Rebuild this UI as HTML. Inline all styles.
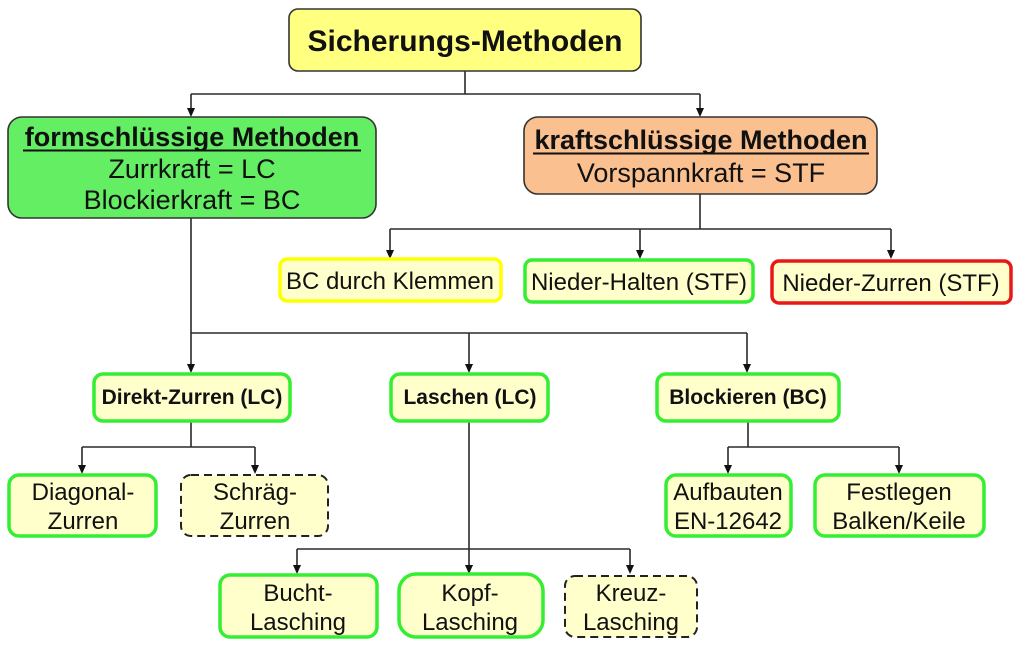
<!DOCTYPE html>
<html>
<head>
<meta charset="utf-8">
<style>
html,body{margin:0;padding:0;background:#fff;}
svg{display:block;}
text{font-family:"Liberation Sans",Arial,sans-serif;fill:#111;}
.b{font-weight:bold;}
</style>
</head>
<body>
<svg width="1024" height="645" viewBox="0 0 1024 645" xmlns="http://www.w3.org/2000/svg">
<!-- connectors -->
<g stroke="#2a2a2a" stroke-width="1.6" fill="none">
  <path d="M465,71 V94 M191,94 H700 M191,94 V109 M700,94 V109"/>
  <path d="M700,194 V229 M390,229 H891 M390,229 V251 M640,229 V251 M891,229 V251"/>
  <path d="M191,218 V333 M191,333 H747 M191,333 V365 M469,333 V365 M747,333 V365"/>
  <path d="M191,421 V447 M82,447 H255 M82,447 V466 M255,447 V466"/>
  <path d="M469,421 V549 M297,549 H630 M297,549 V566 M469,549 V566 M630,549 V566"/>
  <path d="M748,421 V447 M728,447 H899 M728,447 V466 M899,447 V466"/>
</g>
<g fill="#111">
  <polygon points="187,108 195,108 191,117"/>
  <polygon points="696,108 704,108 700,117"/>
  <polygon points="386,250 394,250 390,259"/>
  <polygon points="636,250 644,250 640,259"/>
  <polygon points="887,250 895,250 891,259"/>
  <polygon points="187,364 195,364 191,373"/>
  <polygon points="465,364 473,364 469,373"/>
  <polygon points="743,364 751,364 747,373"/>
  <polygon points="78,465 86,465 82,474"/>
  <polygon points="251,465 259,465 255,474"/>
  <polygon points="724,465 732,465 728,474"/>
  <polygon points="895,465 903,465 899,474"/>
  <polygon points="293,565 301,565 297,574"/>
  <polygon points="465,565 473,565 469,574"/>
  <polygon points="626,565 634,565 630,574"/>
</g>

<!-- top -->
<rect x="289" y="9" width="352" height="62" rx="9" fill="#FFFF80" stroke="#333" stroke-width="1.6"/>
<text x="465" y="51" text-anchor="middle" class="b" font-size="30">Sicherungs-Methoden</text>

<!-- green main -->
<rect x="8" y="117" width="368" height="101" rx="14" fill="#63EE63" stroke="#333" stroke-width="1.6"/>
<text x="192" y="146" text-anchor="middle" class="b" font-size="27">formschlüssige Methoden</text>
<line x1="23" y1="150.5" x2="361" y2="150.5" stroke="#111" stroke-width="2"/>
<text x="192" y="178" text-anchor="middle" font-size="27">Zurrkraft = LC</text>
<text x="192" y="209" text-anchor="middle" font-size="27">Blockierkraft = BC</text>

<!-- orange main -->
<rect x="524" y="117" width="353" height="77" rx="14" fill="#FAC090" stroke="#333" stroke-width="1.6"/>
<text x="701" y="149" text-anchor="middle" class="b" font-size="27">kraftschlüssige Methoden</text>
<line x1="533" y1="153.5" x2="869" y2="153.5" stroke="#111" stroke-width="2"/>
<text x="701" y="182" text-anchor="middle" font-size="27">Vorspannkraft = STF</text>

<!-- tier 2 -->
<rect x="280" y="259" width="221" height="42" rx="7" fill="#FFFFCC" stroke="#FFFF00" stroke-width="3.5"/>
<text x="390" y="289" text-anchor="middle" font-size="24">BC durch Klemmen</text>
<rect x="525" y="260" width="228" height="42" rx="7" fill="#FFFFCC" stroke="#33EE33" stroke-width="3.5"/>
<text x="639" y="290" text-anchor="middle" font-size="24">Nieder-Halten (STF)</text>
<rect x="772" y="261" width="239" height="42" rx="7" fill="#FFFFCC" stroke="#E81818" stroke-width="3.5"/>
<text x="891" y="291" text-anchor="middle" font-size="24">Nieder-Zurren (STF)</text>

<!-- tier 3 -->
<rect x="94" y="374" width="196" height="47" rx="9" fill="#FFFFCC" stroke="#33EE33" stroke-width="3.5"/>
<text x="192" y="404" text-anchor="middle" class="b" font-size="21">Direkt-Zurren (LC)</text>
<rect x="391" y="374" width="157" height="47" rx="9" fill="#FFFFCC" stroke="#33EE33" stroke-width="3.5"/>
<text x="470" y="404" text-anchor="middle" class="b" font-size="21">Laschen (LC)</text>
<rect x="657" y="374" width="182" height="47" rx="9" fill="#FFFFCC" stroke="#33EE33" stroke-width="3.5"/>
<text x="748" y="404" text-anchor="middle" class="b" font-size="21">Blockieren (BC)</text>

<!-- tier 4 left -->
<rect x="9" y="475" width="147" height="61" rx="10" fill="#FFFFCC" stroke="#33EE33" stroke-width="3.5"/>
<text x="83" y="500" text-anchor="middle" font-size="24">Diagonal-</text>
<text x="83" y="529" text-anchor="middle" font-size="24">Zurren</text>
<rect x="181" y="475" width="147" height="61" rx="10" fill="#FFFFCC" stroke="#222" stroke-width="2" stroke-dasharray="8,5"/>
<text x="255" y="500" text-anchor="middle" font-size="24">Schräg-</text>
<text x="255" y="529" text-anchor="middle" font-size="24">Zurren</text>

<!-- tier 4 right -->
<rect x="666" y="475" width="125" height="61" rx="10" fill="#FFFFCC" stroke="#33EE33" stroke-width="3.5"/>
<text x="728" y="500" text-anchor="middle" font-size="24">Aufbauten</text>
<text x="728" y="529" text-anchor="middle" font-size="24">EN-12642</text>
<rect x="815" y="475" width="169" height="61" rx="10" fill="#FFFFCC" stroke="#33EE33" stroke-width="3.5"/>
<text x="899" y="500" text-anchor="middle" font-size="24">Festlegen</text>
<text x="899" y="529" text-anchor="middle" font-size="24">Balken/Keile</text>

<!-- tier 5 -->
<rect x="220" y="575" width="157" height="62" rx="10" fill="#FFFFCC" stroke="#33EE33" stroke-width="3.5"/>
<text x="298" y="601" text-anchor="middle" font-size="24">Bucht-</text>
<text x="298" y="630" text-anchor="middle" font-size="24">Lasching</text>
<rect x="399" y="574" width="144" height="63" rx="17" fill="#FFFFCC" stroke="#33EE33" stroke-width="3.5"/>
<text x="470" y="601" text-anchor="middle" font-size="24">Kopf-</text>
<text x="470" y="630" text-anchor="middle" font-size="24">Lasching</text>
<rect x="565" y="576" width="132" height="61" rx="10" fill="#FFFFCC" stroke="#222" stroke-width="2" stroke-dasharray="8,5"/>
<text x="631" y="601" text-anchor="middle" font-size="24">Kreuz-</text>
<text x="631" y="630" text-anchor="middle" font-size="24">Lasching</text>
</svg>
</body>
</html>
